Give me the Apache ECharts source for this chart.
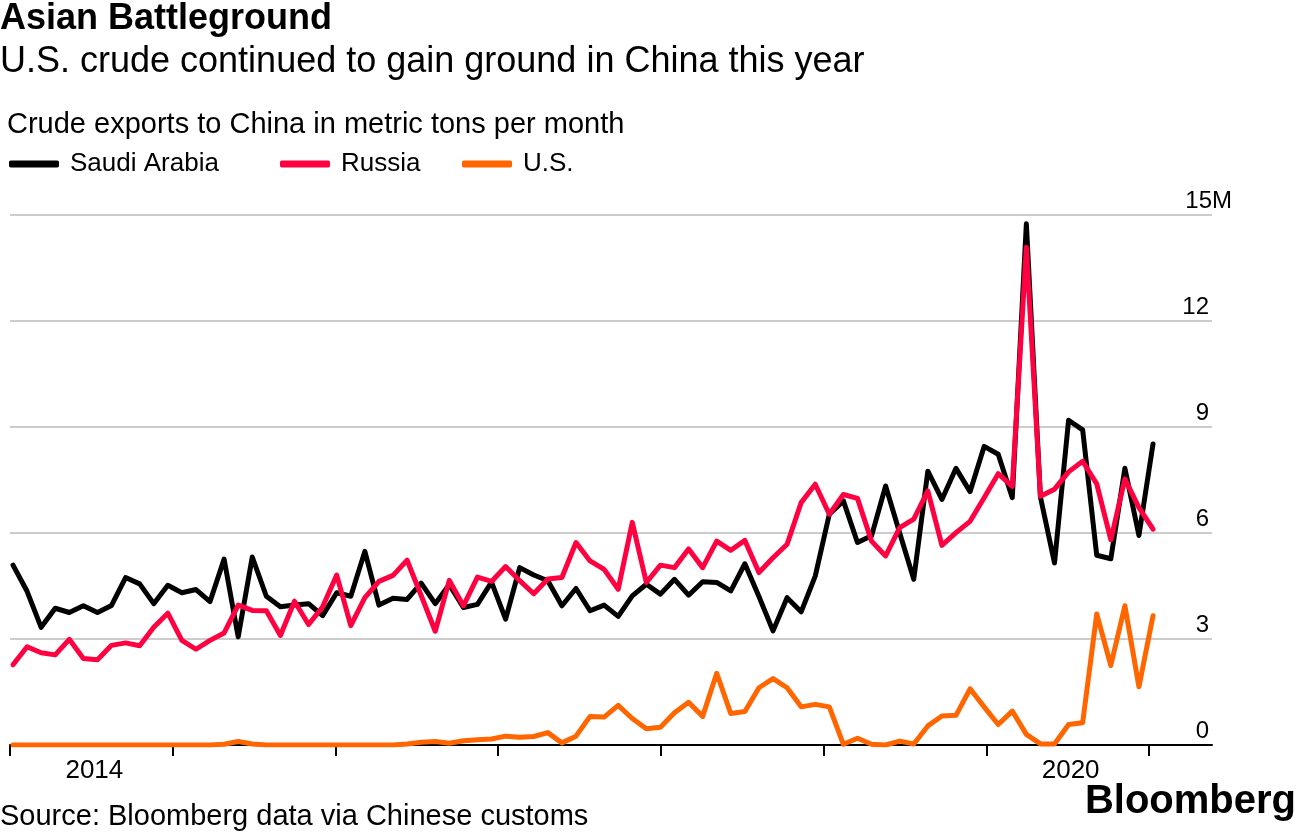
<!DOCTYPE html>
<html>
<head>
<meta charset="utf-8">
<script src="https://cdn.jsdelivr.net/npm/echarts@6/dist/echarts.min.js"></script>
<style>
html,body{margin:0;padding:0;background:#fff;}
#c{width:1296px;height:836px;}
</style>
</head>
<body>
<div id="c"></div>
<script>
// Monthly crude exports to China, million metric tons (Jan 2014 onward, 82 readings)
const saudi = [5.09,4.35,3.33,3.87,3.75,3.94,3.75,3.95,4.74,4.56,4.0,4.52,
  4.31,4.4,4.06,5.26,3.06,5.32,4.21,3.91,3.96,4.0,3.66,4.31,
  4.21,5.48,3.96,4.15,4.12,4.58,4.0,4.54,3.89,3.98,4.61,3.56,
  5.02,4.81,4.65,3.94,4.43,3.80,3.96,3.64,4.22,4.55,4.27,4.69,
  4.24,4.62,4.60,4.36,5.13,4.2,3.23,4.17,3.77,4.78,6.53,6.91,
  5.73,5.92,7.33,6.0,4.69,7.75,6.95,7.83,7.17,8.45,8.23,7.0,
  14.75,7.02,5.15,9.19,8.92,5.37,5.27,7.83,5.93,8.52];
const russia = [2.27,2.78,2.61,2.55,2.99,2.45,2.41,2.82,2.89,2.81,3.33,3.73,
  2.96,2.71,2.96,3.17,3.96,3.81,3.80,3.10,4.07,3.41,3.91,4.81,
  3.38,4.17,4.63,4.80,5.23,4.23,3.22,4.66,3.94,4.75,4.63,5.05,
  4.65,4.28,4.70,4.74,5.73,5.21,4.97,4.41,6.30,4.60,5.09,5.02,
  5.55,5.02,5.77,5.51,5.79,4.88,5.30,5.68,6.86,7.38,6.53,7.09,
  6.98,5.77,5.35,6.15,6.39,7.19,5.65,6.01,6.33,7.0,7.68,7.32,
  14.09,7.04,7.24,7.73,8.03,7.39,5.81,7.53,6.72,6.11];
const us = [0,0,0,0,0,0,0,0,0,0,0,0,
  0,0,0,0.02,0.1,0.03,0,0,0,0,0,0,
  0,0,0,0,0.03,0.08,0.1,0.05,0.12,0.15,0.17,0.25,
  0.22,0.24,0.35,0.06,0.25,0.81,0.79,1.12,0.75,0.46,0.5,0.91,
  1.21,0.81,2.03,0.89,0.95,1.62,1.88,1.62,1.08,1.15,1.08,0.02,
  0.19,0.02,0.0,0.11,0.03,0.54,0.82,0.84,1.59,1.08,0.58,0.96,
  0.30,0.03,0.03,0.58,0.63,3.71,2.25,3.94,1.65,3.66];
const seriesNames = ['Saudi Arabia','Russia','U.S.'];
const seriesColors = ['#000000','#ff0040','#ff6600'];
const yearLabels = ['2014','2020'];
const firstYear = 2014, lastYear = 2021;
const yMax = 15, yStep = 3;

const FONT = "'Liberation Sans', Arial, sans-serif";
const toPts = arr => arr.map((v,i)=>[i,v]);
const legendLefts = [9, 280, 462];

const chart = echarts.init(document.getElementById('c'), null, {renderer:'canvas'});
chart.setOption({
  animation:false,
  backgroundColor:'#fff',
  title:[
    {text:'Asian Battleground', left:0, top:1, padding:0,
     textStyle:{fontFamily:FONT, fontSize:36, fontWeight:'bold', color:'#000'}},
    {text:'U.S. crude continued to gain ground in China this year', left:0, top:44, padding:0,
     textStyle:{fontFamily:FONT, fontSize:36, fontWeight:'normal', color:'#000'}},
    {text:'Crude exports to China in metric tons per month', left:7, top:110, padding:0,
     textStyle:{fontFamily:FONT, fontSize:29, fontWeight:'normal', color:'#000'}},
    {text:'Source: Bloomberg data via Chinese customs', left:0, top:802, padding:0,
     textStyle:{fontFamily:FONT, fontSize:29, fontWeight:'normal', color:'#000'}},
    {text:'Bloomberg', right:0, top:782, padding:0,
     textStyle:{fontFamily:FONT, fontSize:40, fontWeight:'bold', color:'#000'}}
  ],
  legend: seriesNames.map((n,k)=>({
    left:legendLefts[k], top:151, padding:0, itemWidth:50, itemHeight:7,
    icon:'roundRect',
    textStyle:{fontFamily:FONT, fontSize:26, color:'#000', padding:[0,0,0,6]},
    data:[n]
  })),
  grid:[
    {left:10, right:84, top:215, bottom:91, containLabel:false},
    {left:10, right:147, top:215, bottom:91, containLabel:false}
  ],
  xAxis:[
    {type:'value', gridIndex:0, position:'bottom', min:-0.213, max:85.19,
     axisLine:{show:true, onZero:false, lineStyle:{color:'#000', width:2}},
     axisTick:{show:false}, axisLabel:{show:false}, splitLine:{show:false}},
    {type:'value', gridIndex:1, position:'bottom', min:firstYear, max:lastYear, interval:1,
     axisLine:{show:false}, axisTick:{show:true, length:11, lineStyle:{color:'#000', width:2}},
     axisLabel:{show:false}, splitLine:{show:false}},
    {type:'value', gridIndex:1, position:'bottom', offset:0, min:firstYear, max:lastYear, interval:0.5,
     axisLine:{show:false}, axisTick:{show:false}, splitLine:{show:false},
     axisLabel:{show:true, margin:13, fontFamily:FONT, fontSize:26, color:'#000', padding:[0,0,0,6],
       formatter:function(v){
         const y = Math.floor(v);
         return (Math.abs(v - y - 0.5) < 1e-6 && yearLabels.indexOf(String(y)) >= 0) ? String(y) : '';
       }}}
  ],
  yAxis:[
    {type:'value', gridIndex:0, position:'right', min:0, max:yMax, interval:yStep,
     axisLine:{show:false}, axisTick:{show:false},
     splitLine:{show:true, lineStyle:{color:'#cccccc', width:2}},
     axisLabel:{inside:true, margin:3, verticalAlign:'bottom', padding:[0,0,2,0],
       fontFamily:FONT, fontSize:24, color:'#000',
       formatter:function(v){ return v === yMax ? '' : String(v); }}},
    {type:'value', gridIndex:0, position:'right', offset:0, min:0, max:yMax, interval:yStep,
     axisLine:{show:false}, axisTick:{show:false}, splitLine:{show:false},
     axisLabel:{inside:true, margin:-20, verticalAlign:'bottom', padding:[0,0,2,0],
       fontFamily:FONT, fontSize:24, color:'#000',
       formatter:function(v){ return v === yMax ? v + 'M' : ''; }}},
    {type:'value', gridIndex:1, show:false, min:0, max:yMax}
  ],
  series: [saudi, russia, us].map((arr,k)=>({
    name:seriesNames[k], type:'line', xAxisIndex:0, yAxisIndex:0, data:toPts(arr),
    showSymbol:false, symbol:'none', color:seriesColors[k],
    lineStyle:{width:5, color:seriesColors[k], cap:'round', join:'round'}
  }))
});
</script>
</body>
</html>
